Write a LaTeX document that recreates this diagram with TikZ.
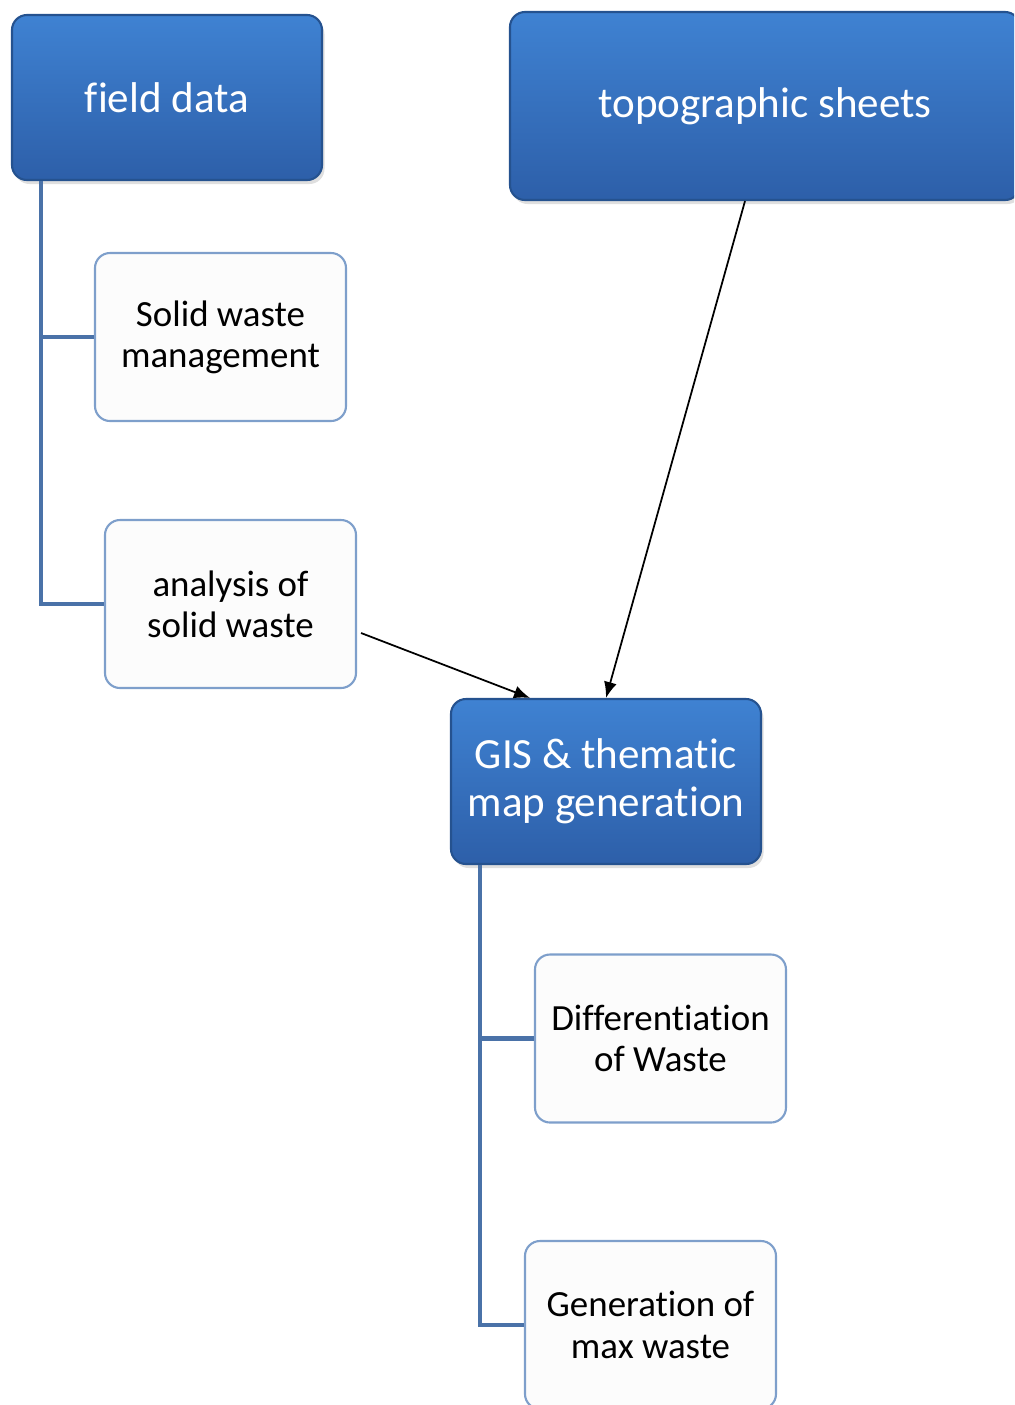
\documentclass[tikz,border=0pt]{standalone}
\usepackage{fontspec}
\setmainfont{Carlito}[Ligatures={NoCommon}]
\usepackage{tikz}
\usetikzlibrary{shadows,arrows.meta}
\definecolor{boxtop}{HTML}{3F82D2}
\definecolor{boxbot}{HTML}{2D5FA9}
\definecolor{boxedge}{HTML}{25528F}
\definecolor{lightedge}{HTML}{7E9FCB}
\definecolor{branchblue}{HTML}{4A72A8}
\tikzstyle{bluebox}=[draw=boxedge,line width=1.2pt,rounded corners=0.3cm,top color=boxtop,bottom color=boxbot,
  text=white,align=center,font=\fontsize{24.5}{27.5}\selectfont,minimum width=6.2cm,minimum height=3.3cm,
  drop shadow={opacity=0.25,shadow xshift=0.05cm,shadow yshift=-0.08cm}]
\tikzstyle{whitebox}=[draw=lightedge,line width=1.2pt,rounded corners=0.3cm,fill=white!99!black,
  align=center,font=\fontsize{21}{23.5}\selectfont,minimum width=5.02cm,minimum height=3.36cm]
\tikzstyle{branch}=[draw=branchblue,line width=2.4pt]
\tikzstyle{link}=[-{Latex[length=0.32cm,width=0.26cm]},line width=1pt]

\begin{document}
\begin{tikzpicture}[thick]
    \useasboundingbox (0,0) rectangle (20.28,-28.1);
    \clip (0,0) rectangle (20.28,-28.1);
    \node [bluebox] (field) at (3.34,-1.95) {field data};
    \node [bluebox,minimum width=10.2cm,minimum height=3.76cm] (topo) at (15.3,-2.12) {topographic sheets};
    \node [whitebox] (solid) at (4.41,-6.74) {Solid waste\\management};
    \node [whitebox] (analysis) at (4.61,-12.08) {analysis of\\solid waste};
    \node [bluebox] (gis) at (12.12,-15.63) {GIS \& thematic\\map generation};
    \node [whitebox] (diff) at (13.21,-20.77) {Differentiation\\of Waste};
    \node [whitebox] (maxw) at (13.01,-26.5) {Generation of\\max waste};
    % branches
    \draw [branch] ([xshift=0.6cm]field.south west) |- (solid.west);
    \draw [branch] ([xshift=0.6cm]field.south west) |- (analysis.west);
    \draw [branch] ([xshift=0.6cm]gis.south west) |- (diff.west);
    \draw [branch] ([xshift=0.6cm]gis.south west) |- (maxw.west);
    % arrows
    \draw [link] ([xshift=0.08cm,yshift=-0.58cm]analysis.east) -- ([xshift=-1.52cm]gis.north);
    \draw [link] ([xshift=-0.4cm]topo.south) -- (gis.north);
    \end{tikzpicture}
\end{document}
